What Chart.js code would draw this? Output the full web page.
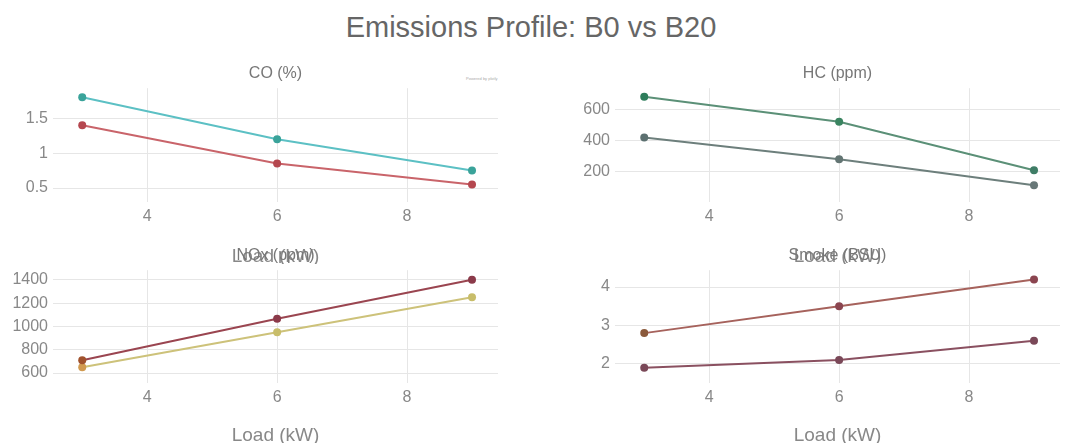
<!DOCTYPE html>
<html>
<head>
<meta charset="utf-8">
<title>Emissions Profile: B0 vs B20</title>
<script src="https://cdn.jsdelivr.net/npm/chart.js@4.4.1/dist/chart.umd.min.js"></script>
<style>
  html, body { margin: 0; padding: 0; background: #fff; overflow: hidden; }
  #wrap { position: relative; width: 1069px; height: 443px; font-family: 'Liberation Sans', Arial, sans-serif; }
  #main-title { position: absolute; left: 0; top: 10px; width: 1062px; text-align: center; font-size: 29px; line-height: 34px; color: #666; }
  #credit { position: absolute; left: 466px; top: 76px; font-size: 4px; color: #aaa; }
  canvas { position: absolute; }
</style>
</head>
<body>
<div id="wrap">
  <div id="main-title">Emissions Profile: B0 vs B20</div>
  <div id="credit">Powered by plotly</div>
  <canvas id="c-co"    width="502" height="202" style="left:0;top:62px;"></canvas>
  <canvas id="c-hc"    width="502" height="202" style="left:562px;top:62px;"></canvas>
  <canvas id="c-nox"   width="502" height="199" style="left:0;top:244px;"></canvas>
  <canvas id="c-smoke" width="502" height="199" style="left:562px;top:244px;"></canvas>
</div>
<script>
// engine load points (kW)
var LOAD = [3, 6, 9];
var X_TICKS = [4, 6, 8];

var CO_B0  = [1.8, 1.2, 0.75];
var CO_B20 = [1.4, 0.85, 0.55];
var CO_TICKS = [0.5, 1, 1.5];

var HC_B0  = [680, 520, 210];
var HC_B20 = [420, 280, 115];
var HC_TICKS = [200, 400, 600];

var NOX_B20 = [710, 1065, 1400];
var NOX_B0  = [650, 950, 1250];
var NOX_TICKS = [600, 800, 1000, 1200, 1400];

var SMOKE_B0  = [2.8, 3.5, 4.2];
var SMOKE_B20 = [1.9, 2.1, 2.6];
var SMOKE_TICKS = [2, 3, 4];

var X_TITLE = 'Load (kW)';
var FONT = "'Liberation Sans', Arial, sans-serif";

function pts(ys) {
  return LOAD.map(function(x, i) { return { x: x, y: ys[i] }; });
}

function fixedTicks(list) {
  return function(s) {
    s.ticks = list.map(function(v) { return { value: v }; });
  };
}

function ds(label, ys, line, points) {
  return {
    label: label,
    data: pts(ys),
    borderColor: line,
    backgroundColor: points,
    pointBackgroundColor: points,
    pointBorderWidth: 0,
    borderWidth: 2,
    pointRadius: 4,
    tension: 0,
    fill: false
  };
}

function panel(id, title, ymin, ymax, yticks, axisH, datasets) {
  new Chart(document.getElementById(id), {
    type: 'line',
    data: { datasets: datasets },
    options: {
      responsive: false,
      animation: false,
      layout: { padding: 0 },
      plugins: {
        legend: { display: false },
        tooltip: { enabled: false },
        title: {
          display: true,
          text: title,
          fullSize: false,
          color: '#777',
          font: { family: FONT, size: 16, weight: 'normal', lineHeight: 1.2 },
          padding: { top: 2, bottom: 5 }
        }
      },
      scales: {
        x: {
          type: 'linear',
          min: 2.55,
          max: 9.4,
          border: { display: false },
          grid: { color: '#e6e6e6', drawTicks: false },
          afterBuildTicks: fixedTicks(X_TICKS),
          ticks: {
            padding: 5,
            color: '#888',
            font: { family: FONT, size: 16 },
            callback: function(v) { return String(v); }
          },
          title: {
            display: true,
            text: X_TITLE,
            color: '#888',
            font: { family: FONT, size: 19, lineHeight: 0.8 },
            padding: { top: 0, bottom: 0 }
          },
          afterFit: function(s) { s.height = axisH; }
        },
        y: {
          min: ymin,
          max: ymax,
          border: { display: false },
          grid: { color: '#e6e6e6', drawTicks: false },
          afterBuildTicks: fixedTicks(yticks),
          ticks: {
            padding: 5,
            color: '#888',
            font: { family: FONT, size: 16 },
            callback: function(v) { return String(+v.toFixed(2)); }
          },
          afterFit: function(s) { s.width = 53; }
        }
      }
    }
  });
}

panel('c-co', 'CO (%)', 0.30, 1.93, CO_TICKS, 62, [
  ds('B0',  CO_B0,  '#5cc0c4', '#3aa39a'),
  ds('B20', CO_B20, '#c9646a', '#b5474f')
]);

panel('c-hc', 'HC (ppm)', 8, 734, HC_TICKS, 62, [
  ds('B0',  HC_B0,  '#5b9077', ['#2e7d5b', '#3a8460', '#3f7d66']),
  ds('B20', HC_B20, '#6d7f7c', ['#5c7070', '#637573', '#687878'])
]);

panel('c-nox', 'NOx (ppm)', 515, 1482, NOX_TICKS, 60, [
  ds('B20', NOX_B20, '#9a4550', ['#a0522d', '#8b3a4a', '#8b3a4a']),
  ds('B0',  NOX_B0,  '#cdc27a', ['#d19a50', '#c8bd6a', '#c8bd6a'])
]);

panel('c-smoke', 'Smoke (BSU)', 1.5, 4.44, SMOKE_TICKS, 60, [
  ds('B0',  SMOKE_B0,  '#a6625c', ['#8b5a3c', '#8b4550', '#8b4550']),
  ds('B20', SMOKE_B20, '#8a5060', ['#7a4858', '#7a4858', '#7a4858'])
]);
</script>
</body>
</html>
